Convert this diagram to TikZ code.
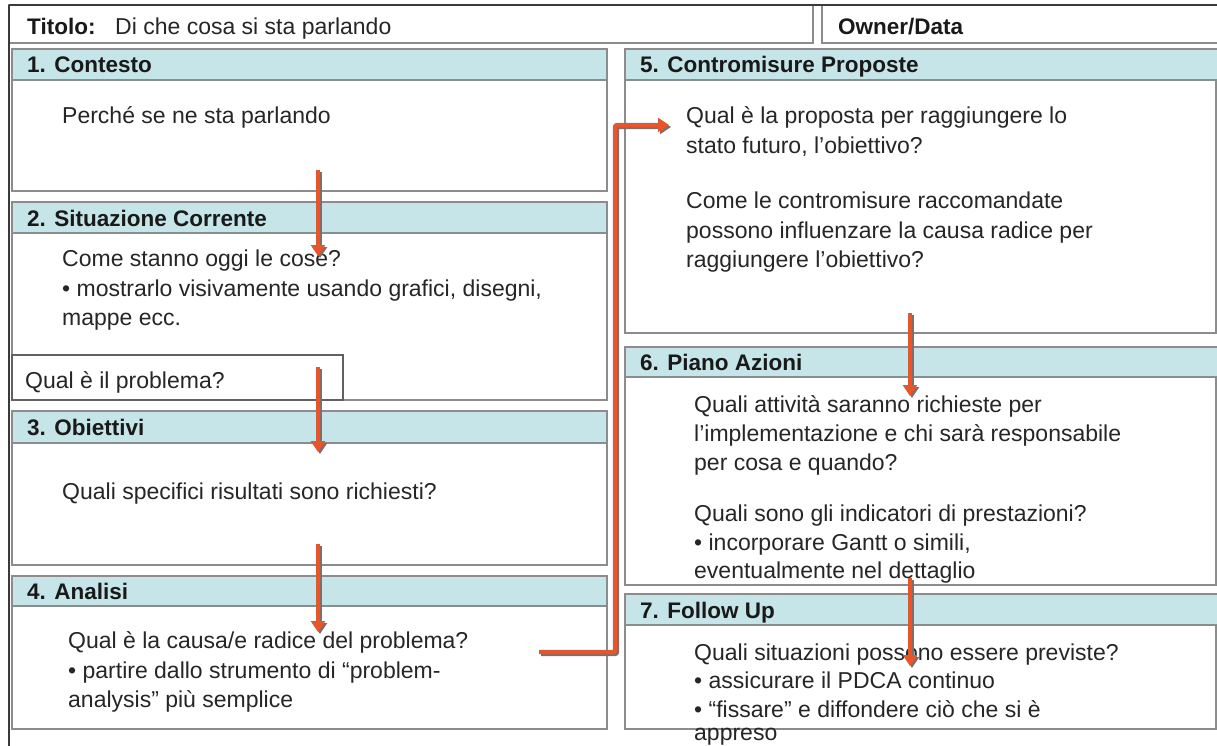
\documentclass[tikz,border=0pt]{standalone}
\usepackage{fontspec}
\setmainfont{Liberation Sans}
\usetikzlibrary{arrows.meta}

\definecolor{headfill}{HTML}{C6E5E8}
\definecolor{boxline}{HTML}{8C8C8C}
\definecolor{frameline}{HTML}{3A3A3A}
\definecolor{arrowred}{HTML}{E9542B}

\tikzset{
  headbox/.style={draw=boxline, fill=headfill, line width=1.3pt},
  bodybox/.style={draw=boxline, fill=white, line width=1.3pt},
  topbox/.style={draw=boxline, fill=white, line width=1.3pt},
  headtxt/.style={anchor=base west, inner sep=0pt, font=\fontsize{22.5}{27}\selectfont\bfseries, text=black!90},
  txt/.style={anchor=base west, inner sep=0pt, font=\fontsize{23}{27}\selectfont, text=black!85},
  flow/.style={draw=arrowred, line width=4.2pt, -{Triangle[width=14pt,length=11pt]},
    preaction={draw=black!55, line width=4.2pt, -{Triangle[width=14pt,length=11pt]},
      transform canvas={shift={(2pt,-2pt)}}}},
}

\begin{document}
\begin{tikzpicture}[x=1pt, y=-1pt]
\useasboundingbox (0,0) rectangle (1217,746);

% title bar
\draw[topbox] (9,5) rectangle (813,43);
\draw[topbox] (822,5) rectangle (1222,43);
\draw[frameline, line width=1.6pt] (9,5) -- (1217,5);
\draw[frameline, line width=1.6pt] (9,5) -- (9,746);
\node[headtxt] (titolo) at (27,35) {Titolo:};
\node[txt] (titolotxt) at (115,35) {Di che cosa si sta parlando};
\node[headtxt] (owner) at (838,35) {Owner/Data};

% left column
\draw[bodybox] (12,80) rectangle (607,191);
\draw[headbox] (12,49) rectangle (607,80);
\node[headtxt] (h1) at (27,73) {1. Contesto};
\node[txt] (t1) at (62,124) {Perché se ne sta parlando};

\draw[bodybox] (12,233) rectangle (607,400);
\draw[headbox] (12,202) rectangle (607,233);
\node[headtxt] (h2) at (27,226) {2. Situazione Corrente};
\node[txt] (t2a) at (62,266) {Come stanno oggi le cose?};
\node[txt] (t2b) at (62,296) {• mostrarlo visivamente usando grafici, disegni,};
\node[txt] (t2c) at (62,325) {mappe ecc.};
\draw[bodybox, draw=frameline!80] (12,355) rectangle (343,400);
\node[txt] (qual) at (25,388) {Qual è il problema?};

\draw[bodybox] (12,443) rectangle (607,565);
\draw[headbox] (12,411) rectangle (607,443);
\node[headtxt] (h3) at (27,435) {3. Obiettivi};
\node[txt] (t3) at (62,499) {Quali specifici risultati sono richiesti?};

\draw[bodybox] (12,606) rectangle (607,729);
\draw[headbox] (12,576) rectangle (607,606);
\node[headtxt] (h4) at (27,599) {4. Analisi};
\node[txt] (t4a) at (68,648) {Qual è la causa/e radice del problema?};
\node[txt] (t4b) at (68,678) {• partire dallo strumento di “problem-};
\node[txt] (t4c) at (68,707) {analysis” più semplice};

% right column
\draw[bodybox] (625,80) rectangle (1216,333);
\draw[headbox] (625,49) rectangle (1222,80);
\node[headtxt] (h5) at (640,73) {5. Contromisure Proposte};
\node[txt] (t5a) at (686,124) {Qual è la proposta per raggiungere lo};
\node[txt] (t5b) at (686,154) {stato futuro, l’obiettivo?};
\node[txt] (t5c) at (686,208) {Come le contromisure raccomandate};
\node[txt] (t5d) at (686,238) {possono influenzare la causa radice per};
\node[txt] (t5e) at (686,267) {raggiungere l’obiettivo?};

\draw[bodybox] (625,377) rectangle (1216,585);
\draw[headbox] (625,347) rectangle (1222,377);
\node[headtxt] (h6) at (640,370) {6. Piano Azioni};
\node[txt] (t6a) at (694,412) {Quali attività saranno richieste per};
\node[txt] (t6b) at (694,441) {l’implementazione e chi sarà responsabile};
\node[txt] (t6c) at (694,470) {per cosa e quando?};
\node[txt] (t6d) at (694,521) {Quali sono gli indicatori di prestazioni?};
\node[txt] (t6e) at (694,550) {• incorporare Gantt o simili,};
\node[txt] (t6f) at (694,578) {eventualmente nel dettaglio};

\draw[bodybox] (625,625) rectangle (1216,729);
\draw[headbox] (625,594) rectangle (1222,625);
\node[headtxt] (h7) at (640,618) {7. Follow Up};
\node[txt] (t7a) at (694,660) {Quali situazioni possono essere previste?};
\node[txt] (t7b) at (694,688) {• assicurare il PDCA continuo};
\node[txt] (t7c) at (694,717) {• “fissare” e diffondere ciò che si è};
\node[txt] (t7d) at (694,740) {appreso};

% flow arrows
\coordinate (a1s) at (318,170); \coordinate (a1e) at (318,256);
\coordinate (a2s) at (318,367); \coordinate (a2e) at (318,452);
\coordinate (a3s) at (318,544); \coordinate (a3e) at (318,632);
\coordinate (a4s) at (910,313); \coordinate (a4e) at (910,396);
\coordinate (a5s) at (910,578); \coordinate (a5e) at (910,666);
\coordinate (lks) at (539,652); \coordinate (lkb) at (615,652);
\coordinate (lkt) at (615,125); \coordinate (lke) at (669,125);

\draw[flow] (a1s) -- (a1e);
\draw[flow] (a2s) -- (a2e);
\draw[flow] (a3s) -- (a3e);
\draw[flow] (a4s) -- (a4e);
\draw[flow] (a5s) -- (a5e);
\draw[flow, rounded corners=2pt] (lks) -- (lkb) -- (lkt) -- (lke);
\end{tikzpicture}
\end{document}
